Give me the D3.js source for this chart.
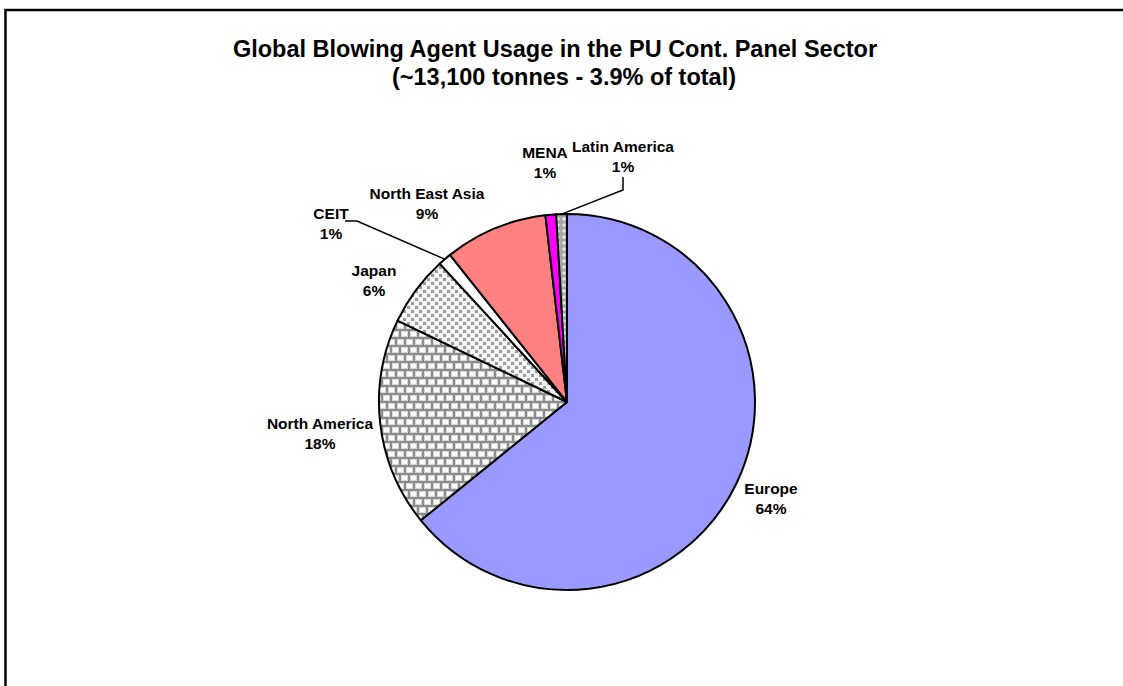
<!DOCTYPE html>
<html><head><meta charset="utf-8">
<script src="https://cdn.jsdelivr.net/npm/d3@7"></script>
<style>html,body{margin:0;padding:0;background:#fff;overflow:hidden}</style>
</head><body>
<svg id="c" width="1123" height="686"></svg>
<script>
// ---- data ----
const categories = ["Europe", "North America", "Japan", "CEIT", "North East Asia", "MENA", "Latin America"];
const tonnes = [8400, 2350, 790, 150, 1160, 120, 120];
const titleLines = ["Global Blowing Agent Usage in the PU Cont. Panel Sector", "(~13,100 tonnes - 3.9% of total)"];

// ---- layout ----
const cx = 567, cy = 402, R = 188;
const svg = d3.select("#c");
const font = "'Liberation Sans', Arial, sans-serif";

const defs = svg.append("defs");
// brick pattern
const pb = defs.append("pattern").attr("id","bricks").attr("patternUnits","userSpaceOnUse")
  .attr("width",18).attr("height",16);
pb.append("rect").attr("width",18).attr("height",16).attr("fill","#8c8c8c");
[[1,1],[10,1],[-4,9],[5,9],[14,9]].forEach(([x,y])=>{
  pb.append("rect").attr("x",x).attr("y",y).attr("width",7).attr("height",6).attr("fill","#d8d8d8");
  pb.append("rect").attr("x",x+1).attr("y",y+1).attr("width",5).attr("height",4).attr("fill","#fbfbfb");
});
// dots pattern
const pd = defs.append("pattern").attr("id","dots").attr("patternUnits","userSpaceOnUse")
  .attr("width",8).attr("height",8);
pd.append("rect").attr("width",8).attr("height",8).attr("fill","#f4f4f4");
pd.append("rect").attr("x",0).attr("y",0).attr("width",3).attr("height",3).attr("fill","#9a9a9a");
pd.append("rect").attr("x",4).attr("y",4).attr("width",3).attr("height",3).attr("fill","#9a9a9a");
// checker / diamond pattern
const pc = defs.append("pattern").attr("id","checks").attr("patternUnits","userSpaceOnUse")
  .attr("width",6).attr("height",6);
pc.append("rect").attr("width",6).attr("height",6).attr("fill","#a8a8a8");
pc.append("path").attr("d","M3,1 L5,3 L3,5 L1,3 Z").attr("fill","#e6e6e6");
// gradient for CEIT (across the slice)
const grad = defs.append("linearGradient").attr("id","ceitGrad").attr("gradientUnits","userSpaceOnUse");

const fills = {
  "Europe": "#9999ff",
  "North America": "url(#bricks)",
  "Japan": "url(#dots)",
  "CEIT": "url(#ceitGrad)",
  "North East Asia": "#ff8080",
  "MENA": "#ff00ff",
  "Latin America": "url(#checks)"
};

// frame
svg.append("rect").attr("x",5.5).attr("y",10).attr("width",1300).attr("height",900)
  .attr("fill","#fff").attr("stroke","#000").attr("stroke-width",2.5);

// title
svg.append("text").attr("x",555).attr("y",57).attr("text-anchor","middle")
  .attr("font-family",font).attr("font-weight","bold").attr("font-size",23.5).text(titleLines[0]);
svg.append("text").attr("x",564).attr("y",85).attr("text-anchor","middle")
  .attr("font-family",font).attr("font-weight","bold").attr("font-size",23.5).text(titleLines[1]);

const data = categories.map((c,i)=>({name:c, value:tonnes[i]}));
const total = d3.sum(tonnes);
const pie = d3.pie().sort(null).value(d=>d.value);
const arcs = pie(data);
const arc = d3.arc().innerRadius(0).outerRadius(R);

const ce = arcs.find(a=>a.data.name==="CEIT");
{
  const a0 = ce.startAngle, a1 = ce.endAngle, rr = R*0.85;
  const p0 = [cx + rr*Math.sin(a0), cy - rr*Math.cos(a0)];
  const p1 = [cx + rr*Math.sin(a1), cy - rr*Math.cos(a1)];
  grad.attr("x1",p0[0]).attr("y1",p0[1]).attr("x2",p1[0]).attr("y2",p1[1]);
  [[0,"#ffffff"],[0.08,"#7fe6f0"],[0.16,"#000000"],[0.26,"#ffffff"],[0.45,"#d0d0d0"],[0.68,"#101010"],[0.82,"#ffffff"],[1,"#ffffff"]]
    .forEach(([o,c])=>grad.append("stop").attr("offset",o).attr("stop-color",c));
}

const g = svg.append("g").attr("transform",`translate(${cx},${cy})`);
g.selectAll("path.slice").data(arcs).join("path").attr("class","slice")
  .attr("d",arc).attr("fill",d=>fills[d.data.name])
  .attr("stroke","#000").attr("stroke-width",2).attr("stroke-linejoin","round");

// labels
const labelPos = {
  "Europe": [771, 489],
  "North America": [320, 424],
  "Japan": [374, 271],
  "CEIT": [331, 214],
  "North East Asia": [427, 194],
  "MENA": [545, 153],
  "Latin America": [623, 147]
};
const lg = svg.append("g").attr("font-family",font).attr("font-weight","bold").attr("font-size",15.5).attr("text-anchor","middle");
arcs.forEach(a=>{
  const [x,y] = labelPos[a.data.name];
  const pct = Math.round(a.data.value/total*100) + "%";
  lg.append("text").attr("x",x).attr("y",y+5).text(a.data.name);
  lg.append("text").attr("x",x).attr("y",y+25).text(pct);
});

// leader lines for CEIT and Latin America
function edgePoint(a){ const m=(a.startAngle+a.endAngle)/2; return [cx+R*Math.sin(m), cy-R*Math.cos(m)]; }
const la = arcs.find(a=>a.data.name==="Latin America");
svg.append("polyline").attr("points",[[623,177],[623,190],edgePoint(la)].map(p=>p.join(",")).join(" "))
  .attr("fill","none").attr("stroke","#000").attr("stroke-width",1.5);
svg.append("polyline").attr("points",[[345,221],[357,221],edgePoint(ce)].map(p=>p.join(",")).join(" "))
  .attr("fill","none").attr("stroke","#000").attr("stroke-width",1.5);
</script>
</body></html>
